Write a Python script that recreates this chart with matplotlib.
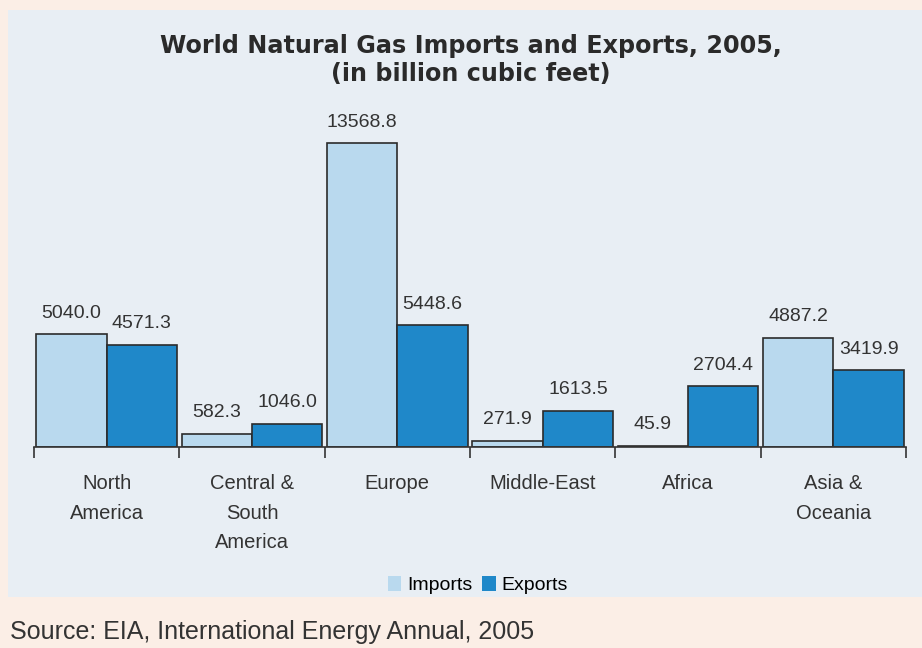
import matplotlib.pyplot as plt
import numpy as np
from matplotlib.patches import Rectangle

regions = ["North\nAmerica", "Central &\nSouth\nAmerica", "Europe", "Middle-East", "Africa", "Asia &\nOceania"]
imports = [5040.0, 582.3, 13568.8, 271.9, 45.9, 4887.2]
exports = [4571.3, 1046.0, 5448.6, 1613.5, 2704.4, 3419.9]

PANEL = "#e8eef4"
PEACH = "#fbeee6"
IMP_COLOR = "#b9d9ee"
EXP_COLOR = "#1f88c9"

fig = plt.figure(figsize=(9.22, 6.48), dpi=100, facecolor=PEACH)
fig.patches.append(Rectangle((8 / 922, 1 - 597 / 648), 1, (597 - 10) / 648,
                             transform=fig.transFigure, facecolor=PANEL,
                             edgecolor="none", zorder=-10))

ax = fig.add_axes([34 / 922, 1 - 447 / 648, (906 - 34) / 922, (447 - 100) / 648])
ax.set_facecolor("none")
ax.set_zorder(2)

x = np.arange(len(regions))
w = 0.485
b1 = ax.bar(x - w / 2, imports, w, color=IMP_COLOR, edgecolor="#2b2b2b", linewidth=1.2)
b2 = ax.bar(x + w / 2, exports, w, color=EXP_COLOR, edgecolor="#2b2b2b", linewidth=1.2)

for bars, vals in ((b1, imports), (b2, exports)):
    for bar, v in zip(bars, vals):
        ax.annotate(f"{v:.1f}", (bar.get_x() + bar.get_width() / 2, v),
                    textcoords="offset points", xytext=(0, 9), ha="center", va="bottom",
                    fontsize=14, family="Liberation Sans", color="#333333")

ax.set_xlim(-0.5, len(regions) - 0.5)
ax.set_ylim(0, 15500)
ax.set_yticks([])
for s in ("top", "right", "left"):
    ax.spines[s].set_visible(False)
ax.spines["bottom"].set_color("#333333")
ax.spines["bottom"].set_linewidth(1.2)

ax.set_xticks(np.arange(len(regions) + 1) - 0.5)
ax.set_xticklabels([])
ax.tick_params(axis="x", length=8, width=1.2, color="#333333", direction="out")
for i, name in enumerate(regions):
    ax.text(i, -0.077, name, transform=ax.get_xaxis_transform(), ha="center", va="top",
            fontsize=14.5, family="Liberation Sans", color="#333333", linespacing=1.72)

fig.text(471 / 922, 1 - 60 / 648, "World Natural Gas Imports and Exports, 2005,\n(in billion cubic feet)",
         ha="center", va="center", fontsize=17.2, fontweight="bold", color="#2a2a2a",
         family="DejaVu Sans", linespacing=1.25)

leg = fig.legend([b1, b2], ["Imports", "Exports"], loc="center", bbox_to_anchor=(478 / 922, 1 - 585 / 648),
                 ncol=2, frameon=False, handlelength=0.7, handleheight=0.8, handletextpad=0.3,
                 columnspacing=0.5, prop={"family": "Liberation Sans", "size": 14})
for h in leg.legend_handles:
    h.set_edgecolor("none")

fig.text(10 / 922, 1 - 632 / 648, "Source: EIA, International Energy Annual, 2005",
         ha="left", va="center", fontsize=18, family="Liberation Sans", color="#333333")

fig.savefig("out.png", dpi=100, facecolor=PEACH)
